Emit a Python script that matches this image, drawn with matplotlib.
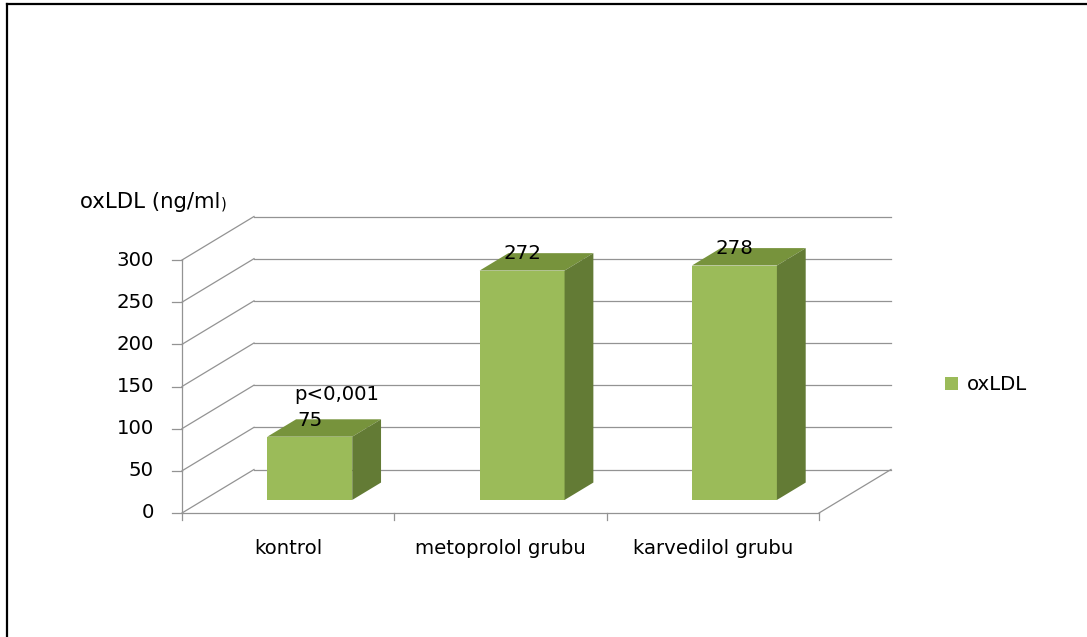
import matplotlib
matplotlib.use("Agg")
import matplotlib.pyplot as plt
from matplotlib.patches import Polygon
from matplotlib.lines import Line2D

# ---- data ----
categories = ["kontrol", "metoprolol grubu", "karvedilol grubu"]
values = [75, 272, 278]
series_name = "oxLDL"
y_ticks = [0, 50, 100, 150, 200, 250, 300]
y_label = "oxLDL (ng/ml"
p_text = "p<0,001"

# ---- geometry (pixels of a 1087x637 canvas) ----
W, H = 1087, 637
X0 = 182.0                 # front-left axis x
S = (819.0 - 182.0) / 3    # px per category
Y0 = 513.0                 # front baseline y
K = (513.0 - 260.0) / 300  # px per value unit
DX = 72.0 / S              # depth offset in category units
DY = 43.5 / K              # depth offset in value units
BW = 0.40                  # bar width (category units)
D1, D2 = 0.3, 0.7          # bar depth range (fraction of full depth)

FS = 14.2
plt.rcParams['font.family'] = ['DejaVu Sans']

fig = plt.figure(figsize=(W / 100, H / 100), dpi=100)
ax = fig.add_axes([0, 0, 1, 1])
ax.set_xlim(-0.5 - X0 / S, -0.5 + (W - X0) / S)
ax.set_ylim((Y0 - H) / K, Y0 / K)
ax.axis('off')

grid_c = '#939393'
xl = -0.5
xr = len(categories) - 0.5

# gridlines: left wall diagonals and back wall lines
for t in y_ticks:
    ax.plot([xl, xl + DX], [t, t + DY], color=grid_c, lw=0.9, zorder=1)
    ax.plot([xl + DX, xr + DX], [t + DY, t + DY], color=grid_c, lw=0.9, zorder=1)
    # tick marks on the value axis
    ax.plot([xl - 10 / S, xl], [t, t], color=grid_c, lw=0.9, zorder=1)
    ax.text(xl - 28 / S, t, str(t), ha='right', va='center', fontsize=FS, color='black')

# front value axis, floor front line and right floor edge
ax.plot([xl, xl], [0, max(y_ticks)], color=grid_c, lw=0.9, zorder=1)
ax.plot([xl, xr], [0, 0], color=grid_c, lw=0.9, zorder=1)
ax.plot([xr, xr + DX], [0, DY], color=grid_c, lw=0.9, zorder=1)
for i in range(len(categories) + 1):
    ax.plot([xl + i, xl + i], [0, -7 / K], color=grid_c, lw=0.9, zorder=1)

# category labels
for i, c in enumerate(categories):
    ax.text(i, (Y0 - 548) / K, c, ha='center', va='center', fontsize=FS, color='black')

front_c = '#9BBB59'
top_c = '#77933C'
side_c = '#637B35'

xs = [i + D1 * DX for i in range(len(categories))]
bars = ax.bar(xs, values, width=BW, bottom=D1 * DY, color=front_c, zorder=3,
              label=series_name, linewidth=0)
for i, v in enumerate(values):
    xa = i - BW / 2
    xb = i + BW / 2
    top = Polygon([(xa + D1 * DX, v + D1 * DY), (xb + D1 * DX, v + D1 * DY),
                   (xb + D2 * DX, v + D2 * DY), (xa + D2 * DX, v + D2 * DY)],
                  closed=True, facecolor=top_c, edgecolor='none', zorder=3)
    side = Polygon([(xb + D1 * DX, D1 * DY), (xb + D2 * DX, D2 * DY),
                    (xb + D2 * DX, v + D2 * DY), (xb + D1 * DX, v + D1 * DY)],
                   closed=True, facecolor=side_c, edgecolor='none', zorder=3)
    ax.add_patch(top)
    ax.add_patch(side)
    ax.text(i + D1 * DX, v + 0.5 * (D1 + D2) * DY + 8 / K, str(v),
            ha='center', va='center', fontsize=FS, color='black', zorder=5)

# p-value annotation above the first bar
ax.text(0 + D1 * DX + 27 / S, values[0] + 0.5 * (D1 + D2) * DY + 33 / K, p_text,
        ha='center', va='center', fontsize=FS, color='black', zorder=5)

# axis title
t1 = fig.text(80 / W, 1 - 202 / H, y_label, ha='left', va='center', fontsize=FS * 1.08)
ax.annotate(')', xy=(1, 0.42), xycoords=t1, ha='left', va='center', fontsize=FS * 0.75)

# legend
fig.legend(handles=[bars], labels=[series_name], loc='center left',
           bbox_to_anchor=(945 / W, 1 - 385 / H), frameon=False, fontsize=FS,
           handlelength=0.65, handleheight=0.65, handletextpad=0.45,
           borderpad=0, borderaxespad=0)

# outer border (top and left)
fig.add_artist(Line2D([6.5 / W, 1.0], [1 - 4 / H, 1 - 4 / H], transform=fig.transFigure,
                      color='black', lw=1.6))
fig.add_artist(Line2D([6.5 / W, 6.5 / W], [0, 1 - 4 / H], transform=fig.transFigure,
                      color='black', lw=1.6))

fig.savefig('out.png', dpi=100, facecolor='white')
